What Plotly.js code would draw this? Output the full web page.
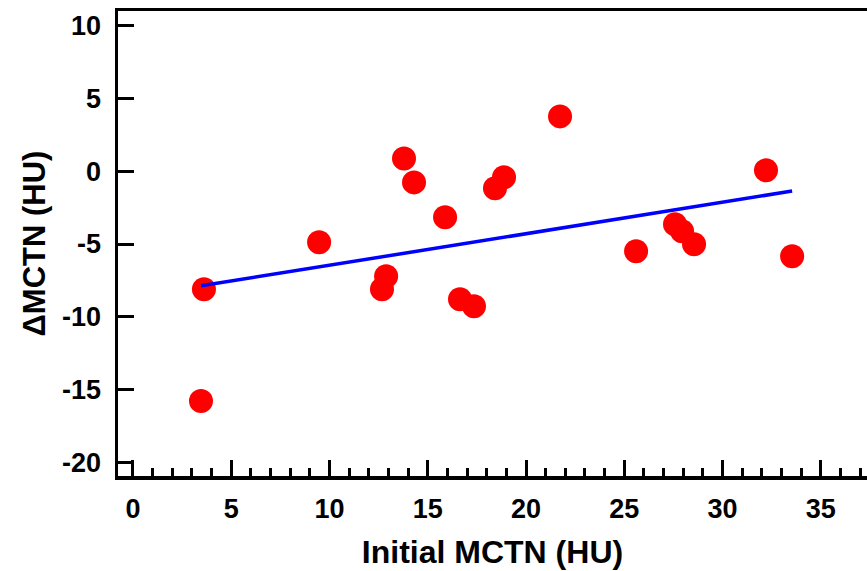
<!DOCTYPE html>
<html>
<head>
<meta charset="utf-8">
<script src="https://cdn.plot.ly/plotly-3.0.1.min.js"></script>
<style>
  html, body { margin: 0; padding: 0; background: #ffffff; }
  #chart { width: 867px; height: 571px; }
</style>
</head>
<body>
<div id="chart"></div>
<script>
// Data
const initialMCTN = [3.61, 3.46, 9.47, 12.67, 12.88, 13.79, 14.30, 15.88, 16.64, 17.35, 18.42, 18.88, 21.73, 25.60, 27.58, 27.94, 28.55, 32.21, 33.54];
const deltaMCTN   = [-8.11, -15.80, -4.88, -8.11, -7.22, 0.89, -0.76, -3.16, -8.80, -9.28, -1.17, -0.41, 3.78, -5.50, -3.64, -4.12, -5.02, 0.07, -5.84];
const xTickVals = [0, 5, 10, 15, 20, 25, 30, 35];
const xTickText = ['0', '5', '10', '15', '20', '25', '30', '35'];
const yTickVals = [-20, -15, -10, -5, 0, 5, 10];
const yTickText = ['-20', '-15', '-10', '-5', '0', '5', '10'];
const xTitle = 'Initial MCTN (HU)';
const yTitle = '\u0394MCTN (HU)';

// Least-squares regression line derived from the data
function linearFit(xs, ys) {
  const n = xs.length;
  const mx = xs.reduce((a, b) => a + b, 0) / n;
  const my = ys.reduce((a, b) => a + b, 0) / n;
  let sxy = 0, sxx = 0;
  for (let i = 0; i < n; i++) {
    sxy += (xs[i] - mx) * (ys[i] - my);
    sxx += (xs[i] - mx) * (xs[i] - mx);
  }
  const slope = sxy / sxx;
  return { slope: slope, intercept: my - slope * mx };
}
const fit = linearFit(initialMCTN, deltaMCTN);
const fitX = [Math.min(...initialMCTN), Math.max(...initialMCTN)];
const fitY = fitX.map(v => fit.intercept + fit.slope * v);

const font = { family: '"Liberation Sans", Arial, sans-serif', color: '#000000', weight: 700 };

const traces = [
  {
    x: initialMCTN, y: deltaMCTN,
    type: 'scatter', mode: 'markers',
    marker: { color: '#FF0000', size: 24, line: { width: 0 } },
    hoverinfo: 'x+y', showlegend: false
  },
  {
    x: fitX, y: fitY,
    type: 'scatter', mode: 'lines',
    line: { color: '#0000FF', width: 3.5 },
    hoverinfo: 'skip', showlegend: false
  }
];

const layout = {
  width: 867, height: 571,
  margin: { l: 118, r: 0, t: 11, b: 95 },
  paper_bgcolor: '#ffffff', plot_bgcolor: '#ffffff',
  showlegend: false,
  xaxis: {
    range: [-0.763, 37.35],
    tickmode: 'array', tickvals: xTickVals, ticktext: xTickText,
    ticks: 'inside', ticklen: 16, tickwidth: 3, tickcolor: '#000000',
    minor: { dtick: 1, ticks: 'inside', ticklen: 8, tickwidth: 3, tickcolor: '#000000', showgrid: false },
    showline: true, linewidth: 3.5, linecolor: '#000000', mirror: true,
    showgrid: false, zeroline: false,
    tickfont: Object.assign({ size: 27 }, font),
    ticklabelstandoff: 6,
    title: { text: xTitle, font: Object.assign({ size: 32 }, font), standoff: 18 }
  },
  yaxis: {
    range: [-20.96, 11.03],
    tickmode: 'array', tickvals: yTickVals, ticktext: yTickText,
    ticks: 'inside', ticklen: 16, tickwidth: 3, tickcolor: '#000000',
    showline: true, linewidth: 3.5, linecolor: '#000000', mirror: false,
    showgrid: false, zeroline: false,
    tickfont: Object.assign({ size: 27 }, font),
    ticklabelstandoff: 8,
    title: { text: yTitle, font: Object.assign({ size: 31 }, font), standoff: 8 }
  }
};

Plotly.newPlot('chart', traces, layout, { displayModeBar: false, staticPlot: true });
</script>
</body>
</html>
